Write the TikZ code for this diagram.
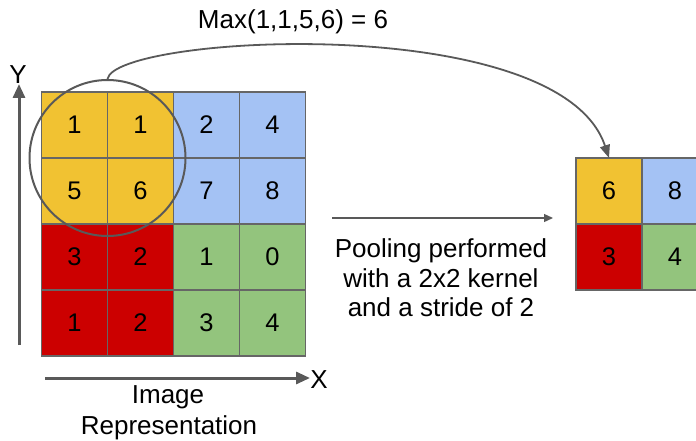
\documentclass[tikz,border=0pt]{standalone}
\usepackage{fontspec}
\setmainfont{Liberation Sans}
\usetikzlibrary{arrows.meta}
\definecolor{cyel}{HTML}{F1C232}
\definecolor{cblu}{HTML}{A4C2F4}
\definecolor{cred}{HTML}{CC0000}
\definecolor{cgrn}{HTML}{93C47D}
\definecolor{cedge}{HTML}{666666}
\definecolor{cline}{HTML}{595959}
\begin{document}
\begin{tikzpicture}[x=1pt,y=-1pt,
  cell/.style={draw=cedge,line width=1.6pt,minimum size=66pt,inner sep=0pt,outer sep=0pt,anchor=north west,font=\fontsize{25.5}{30}\selectfont},
  lbl/.style={font=\fontsize{26}{30}\selectfont,inner sep=0pt},
  axis/.style={draw=cline,line width=3pt,-{Triangle[length=14pt,width=12pt]}},
  thin/.style={draw=cline,line width=1.8pt}]
\useasboundingbox (0,0) rectangle (696,441);
\clip (0,0) rectangle (696,441);
% input grid
\node[cell,fill=cyel] (a11) at (41.5,92) {1};
\node[cell,fill=cyel] (a12) at (107.5,92) {1};
\node[cell,fill=cblu] (a13) at (173.5,92) {2};
\node[cell,fill=cblu] (a14) at (239.5,92) {4};
\node[cell,fill=cyel] (a21) at (41.5,158) {5};
\node[cell,fill=cyel] (a22) at (107.5,158) {6};
\node[cell,fill=cblu] (a23) at (173.5,158) {7};
\node[cell,fill=cblu] (a24) at (239.5,158) {8};
\node[cell,fill=cred] (a31) at (41.5,224) {3};
\node[cell,fill=cred] (a32) at (107.5,224) {2};
\node[cell,fill=cgrn] (a33) at (173.5,224) {1};
\node[cell,fill=cgrn] (a34) at (239.5,224) {0};
\node[cell,fill=cred] (a41) at (41.5,290) {1};
\node[cell,fill=cred] (a42) at (107.5,290) {2};
\node[cell,fill=cgrn] (a43) at (173.5,290) {3};
\node[cell,fill=cgrn] (a44) at (239.5,290) {4};
% output grid
\node[cell,fill=cyel] (o11) at (576,158) {6};
\node[cell,fill=cblu] (o12) at (642,158) {8};
\node[cell,fill=cred] (o21) at (576,224) {3};
\node[cell,fill=cgrn] (o22) at (642,224) {4};
% circle
\node[draw=cline,line width=2pt,circle,minimum size=156pt,inner sep=0pt] (circ) at (107.5,158) {};
% curve
\draw[thin,-{Triangle[length=13pt,width=10pt]}] (circ.north) .. controls (115,35) and (560,10) .. (o11.north);
\node[lbl] (maxt) at (293,22) {Max(1,1,5,6) = 6};
% pooling arrow
\coordinate (pa) at (332,218);
\coordinate (pb) at (553,218);
\draw[draw=cline,line width=1.3pt,-{Triangle[length=9pt,width=8pt]}] (pa) -- (pb);
\node[lbl,align=center,font=\fontsize{26}{29.5}\selectfont] (pool) at (441,278) {Pooling performed\\with a 2x2 kernel\\and a stride of 2};
% axes
\coordinate (y0) at (19,345);
\coordinate (y1) at (19,84);
\draw[axis] (y0) -- (y1);
\node[lbl] (ylab) at (18,75) {Y};
\coordinate (x0) at (45,378);
\coordinate (x1) at (310,378);
\draw[axis] (x0) -- (x1);
\node[lbl] (xlab) at (319,380) {X};
\node[lbl] (img) at (168,397) {Image};
\node[lbl] (rep) at (169,428) {Representation};
\end{tikzpicture}
\end{document}
